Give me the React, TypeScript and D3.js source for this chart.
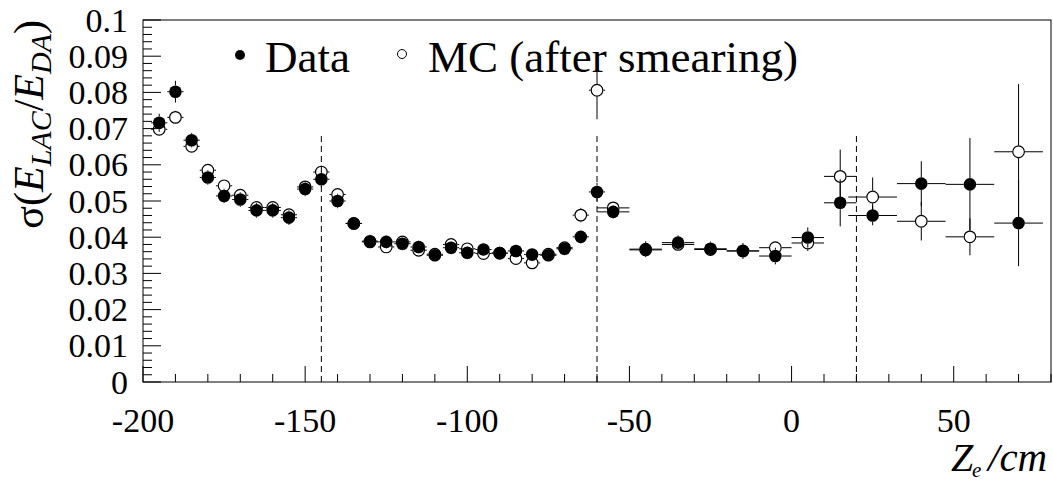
import React from "react";
import * as d3 from "d3";

// ---- data ----
const zCenters = [-195, -190, -185, -180, -175, -170, -165, -160, -155, -150, -145, -140, -135, -130, -125, -120, -115, -110, -105, -100, -95, -90, -85, -80, -75, -70, -65, -60, -55, -45, -35, -25, -15, -5, 5, 15, 25, 40, 55, 70];
const zHalfWidths = [2.5, 2.5, 2.5, 2.5, 2.5, 2.5, 2.5, 2.5, 2.5, 2.5, 2.5, 2.5, 2.5, 2.5, 2.5, 2.5, 2.5, 2.5, 2.5, 2.5, 2.5, 2.5, 2.5, 2.5, 2.5, 2.5, 2.5, 2.5, 5, 5, 5, 5, 5, 5, 5, 5, 7.5, 7.5, 7.5, 7.5];
const dataSigma = [0.0716, 0.0802, 0.0668, 0.0565, 0.0514, 0.0504, 0.0474, 0.0474, 0.0454, 0.0533, 0.0560, 0.0500, 0.0438, 0.0389, 0.0387, 0.0382, 0.0373, 0.0350, 0.0371, 0.0357, 0.0366, 0.0356, 0.0362, 0.0352, 0.0350, 0.0368, 0.0401, 0.0525, 0.0470, 0.0367, 0.0385, 0.0368, 0.0362, 0.0348, 0.0399, 0.0495, 0.0460, 0.0548, 0.0546, 0.0439];
const dataErr = [0.0025, 0.003, 0.002, 0.002, 0.002, 0.002, 0.002, 0.002, 0.002, 0.002, 0.0022, 0.002, 0.0018, 0.0018, 0.0018, 0.0018, 0.0018, 0.0018, 0.0018, 0.0018, 0.0018, 0.0018, 0.0018, 0.0018, 0.0018, 0.0018, 0.0018, 0.0025, 0.0018, 0.0022, 0.002, 0.002, 0.0022, 0.0023, 0.0028, 0.0065, 0.0027, 0.0062, 0.0128, 0.0119];
const mcSigma = [0.0698, 0.0731, 0.0651, 0.0585, 0.0542, 0.0516, 0.0482, 0.0482, 0.0462, 0.0539, 0.0580, 0.0518, 0.0438, 0.0387, 0.0373, 0.0387, 0.0364, 0.0353, 0.0380, 0.0368, 0.0355, 0.0356, 0.0341, 0.0329, 0.0353, 0.0371, 0.0461, 0.0806, 0.0481, 0.0365, 0.0380, 0.0366, 0.0362, 0.0371, 0.0384, 0.0568, 0.0511, 0.0444, 0.0401, 0.0636];
const mcErr = [0.0015, 0.0018, 0.0015, 0.0015, 0.0015, 0.0015, 0.0015, 0.0015, 0.0015, 0.0015, 0.0018, 0.0015, 0.0015, 0.0015, 0.0015, 0.0015, 0.0015, 0.0015, 0.0015, 0.0015, 0.0015, 0.0015, 0.0015, 0.0015, 0.0015, 0.0015, 0.002, 0.008, 0.0015, 0.0015, 0.0015, 0.0015, 0.0015, 0.0018, 0.0022, 0.0074, 0.0054, 0.0053, 0.0051, 0.0187];
const boundaryZ = [-145, -60, 20];
const boundaryTop = 0.069;
const xTickLabels = ["-200", "-150", "-100", "-50", "0", "50"];
const yTickLabels = ["0", "0.01", "0.02", "0.03", "0.04", "0.05", "0.06", "0.07", "0.08", "0.09", "0.1"];
const legendLabels = ["Data", "MC (after smearing)"];

const W = 1053, H = 483;
const FONT = "Liberation Serif, Times New Roman, Times, DejaVu Serif, serif";

export default function App() {
  const x = d3.scaleLinear().domain([-200, 80]).range([143, 1051]);
  const y = d3.scaleLinear().domain([0, 0.1]).range([382, 20]);
  const R = 6.3;

  const xMinor = d3.range(-200, 80.001, 10);
  const yMinor = d3.range(0, 0.1001, 0.002);

  const errSegs = (vals: number[], errs: number[]) => {
    const out: JSX.Element[] = [];
    zCenters.forEach((z, i) => {
      const cx = x(z), cy = y(vals[i]);
      const xl = x(z - zHalfWidths[i]), xr = x(z + zHalfWidths[i]);
      const yt = y(vals[i] + errs[i]), yb = y(vals[i] - errs[i]);
      if (xl < cx - R) out.push(<line key={`h1${i}`} x1={xl} x2={cx - R} y1={cy} y2={cy} />);
      if (xr > cx + R) out.push(<line key={`h2${i}`} x1={cx + R} x2={xr} y1={cy} y2={cy} />);
      if (yt < cy - R) out.push(<line key={`v1${i}`} x1={cx} x2={cx} y1={yt} y2={cy - R} />);
      if (yb > cy + R) out.push(<line key={`v2${i}`} x1={cx} x2={cx} y1={cy + R} y2={yb} />);
    });
    return out;
  };

  const ts = { fontFamily: FONT };

  return (
    <svg width={W} height={H} style={{ position: "absolute", left: 0, top: 0, background: "#fff", fontFamily: FONT }}>
      <rect x={0} y={0} width={W} height={H} fill="#fff" />
      {/* frame */}
      <rect x={x(-200)} y={y(0.1)} width={x(80) - x(-200)} height={y(0) - y(0.1)} fill="none" stroke="#000" strokeWidth={1} />
      {/* ticks */}
      <g stroke="#000" strokeWidth={1}>
        {yMinor.map((v, i) => {
          const major = Math.abs(v / 0.01 - Math.round(v / 0.01)) < 1e-6;
          return <line key={`y${i}`} x1={x(-200)} x2={x(-200) + (major ? 18 : 9)} y1={y(v)} y2={y(v)} />;
        })}
        {xMinor.map((v, i) => {
          const major = Math.abs(v % 50) < 1e-6;
          return <line key={`x${i}`} x1={x(v)} x2={x(v)} y1={y(0)} y2={y(0) - (major ? 16 : 8)} />;
        })}
      </g>
      <g fontSize={34} fill="#000">
        {yTickLabels.map((t) => (
          <text key={t} style={ts} x={128} y={y(+t) + 11.5} textAnchor="end">{t}</text>
        ))}
        {xTickLabels.map((t) => (
          <text key={t} style={ts} x={x(+t)} y={432} textAnchor="middle">{t}</text>
        ))}
      </g>
      {/* axis titles */}
      <text style={ts} transform={`translate(43,20) rotate(-90)`} textAnchor="end" fontSize={42} fill="#000">
        <tspan>σ(</tspan>
        <tspan fontStyle="italic">E</tspan>
        <tspan fontStyle="italic" fontSize={30} dy={8}>LAC</tspan>
        <tspan dy={-8}>/</tspan>
        <tspan fontStyle="italic">E</tspan>
        <tspan fontStyle="italic" fontSize={30} dy={8}>DA</tspan>
        <tspan dy={-8}>)</tspan>
      </text>
      <text style={ts} x={951} y={471} fontSize={40} fontStyle="italic" fill="#000">Z</text>
      <text style={ts} x={972} y={477} fontSize={21} fontStyle="italic" fill="#000">e</text>
      <text style={ts} x={988} y={471} fontSize={41} fontStyle="italic" fill="#000">/cm</text>
      {/* boundary lines */}
      <g stroke="#000" strokeWidth={1} strokeDasharray="6,4">
        {boundaryZ.map((z) => (
          <line key={z} x1={x(z)} x2={x(z)} y1={y(0)} y2={y(boundaryTop)} />
        ))}
      </g>
      {/* error bars */}
      <g stroke="#000" strokeWidth={1}>
        {errSegs(mcSigma, mcErr)}
        {errSegs(dataSigma, dataErr)}
      </g>
      {/* markers */}
      <g>
        {zCenters.map((z, i) => (
          <circle key={`m${i}`} cx={x(z)} cy={y(mcSigma[i])} r={R - 0.5} fill="none" stroke="#000" strokeWidth={1.2} />
        ))}
        {zCenters.map((z, i) => (
          <circle key={`d${i}`} cx={x(z)} cy={y(dataSigma[i])} r={R} fill="#000" />
        ))}
      </g>
      {/* legend */}
      <circle cx={240} cy={55} r={5} fill="#000" />
      <text style={ts} x={265} y={72} fontSize={45} fill="#000">{legendLabels[0]}</text>
      <circle cx={402} cy={54} r={4.5} fill="none" stroke="#000" strokeWidth={1} />
      <text style={ts} x={428} y={72} fontSize={45} fill="#000">{legendLabels[1]}</text>
    </svg>
  );
}
